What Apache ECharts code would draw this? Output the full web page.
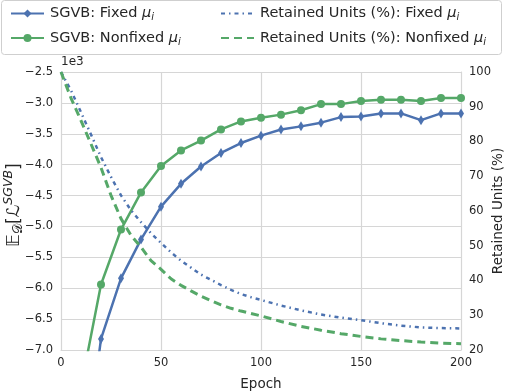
<!DOCTYPE html>
<html>
<head>
<meta charset="utf-8">
<script src="https://cdn.jsdelivr.net/npm/echarts@6/dist/echarts.min.js"></script>
<style>
  html, body { margin: 0; padding: 0; background: #fff; }
  #main { width: 510px; height: 392px; }
</style>
</head>
<body>
<div id="main"></div>
<script>
// SGVB bound (x1e3), every 10 epochs
const sgvbEpochs = [10, 20, 30, 40, 50, 60, 70, 80, 90, 100, 110, 120, 130, 140, 150, 160, 170, 180, 190, 200];
const sgvbFixed = [-9.3, -6.82, -5.84, -5.21, -4.68, -4.31, -4.03, -3.81, -3.65, -3.53, -3.43, -3.38, -3.32, -3.23, -3.22, -3.17, -3.17, -3.28, -3.17, -3.17];
const sgvbNonfixed = [-7.6, -5.94, -5.05, -4.45, -4.02, -3.77, -3.61, -3.43, -3.30, -3.24, -3.19, -3.12, -3.02, -3.02, -2.97, -2.95, -2.95, -2.97, -2.92, -2.92];

// retained units (%)
const unitEpochs = [0, 5, 10, 15, 20, 25, 30, 35, 40, 45, 50, 55, 60, 65, 70, 75, 80, 85, 90, 95, 100, 110, 120, 130, 140, 150, 160, 170, 180, 190, 200];
const unitsFixed = [100, 94.7, 88.4, 82, 75.5, 69.8, 64.5, 60.2, 56.8, 53.6, 50.8, 48.1, 45.7, 43.7, 41.7, 40.2, 38.7, 37.3, 36.1, 35.2, 34.4, 32.8, 31.4, 30.2, 29.3, 28.6, 27.7, 27.0, 26.5, 26.3, 26.2];
const unitsNonfixed = [100, 92.5, 86, 79.3, 72.5, 64.5, 57.8, 53, 49.6, 45.7, 43.2, 40.5, 38.6, 37, 35.5, 34.2, 33.0, 32, 31.2, 30.5, 29.8, 28.2, 26.8, 25.7, 24.7, 23.9, 23.2, 22.7, 22.3, 22.0, 21.8];

const legendNames = {
    'fixed': 'SGVB: Fixed {mu|μ}{sub|i}',
    'nonfixed': 'SGVB: Nonfixed {mu|μ}{sub|i}',
    'rfixed': 'Retained Units (%): Fixed {mu|μ}{sub|i}',
    'rnonfixed': 'Retained Units (%): Nonfixed {mu|μ}{sub|i}'
};

const BLUE = '#4C72B0';
const GREEN = '#55A868';
const TXT = '#262626';
const GRID = '#d6d6d6';
const FONT = 'DejaVu Sans';

const zip = (xs, ys) => xs.map((x, i) => [x, ys[i]]);
const fmtTick = (v) => v.toFixed(1).replace('-', '\u2212');

const legendText = {
    fontFamily: FONT, fontSize: 14.5, color: TXT, padding: [0, 0, 0, 1],
    rich: {
        mu: { fontFamily: FONT, fontSize: 14.5, fontStyle: 'italic', color: TXT },
        sub: { fontFamily: FONT, fontSize: 10, fontStyle: 'italic', color: TXT, padding: [8, 0, 0, 0] }
    }
};

const legendBase = {
    orient: 'vertical',
    itemWidth: 33,
    itemHeight: 10,
    itemGap: 8,
    textStyle: legendText,
    formatter: (name) => legendNames[name],
    backgroundColor: 'transparent',
    z: 10
};

const option = {
    animation: false,
    backgroundColor: '#fff',
    textStyle: { fontFamily: FONT },
    graphic: [
        {
            type: 'text', left: 61, top: 56, z: 0,
            style: { text: '1e3', fontFamily: FONT, fontSize: 12, fill: TXT }
        },
        {
            type: 'rect', left: 1, top: 0, z: 5,
            shape: { width: 500, height: 54, r: 3 },
            style: { fill: '#fff', stroke: '#cfcfcf', lineWidth: 1 }
        }
    ],
    legend: [
        Object.assign({}, legendBase, { left: 5, top: 1, data: ['fixed', 'nonfixed'] }),
        Object.assign({}, legendBase, { left: 215, top: 1, data: ['rfixed', 'rnonfixed'] })
    ],
    grid: { left: 61, right: 49, top: 72, bottom: 42, outerBoundsMode: 'none' },
    xAxis: {
        type: 'value', min: 0, max: 200, interval: 50,
        name: 'Epoch', nameLocation: 'middle', nameGap: 27,
        nameTextStyle: { fontFamily: FONT, fontSize: 13.5, color: TXT },
        axisLine: { show: true, lineStyle: { color: GRID } },
        axisTick: { show: false },
        axisLabel: { fontFamily: FONT, fontSize: 11.5, color: TXT, margin: 7 },
        splitLine: { show: true, lineStyle: { color: GRID, width: 1.2 } }
    },
    yAxis: [
        {
            type: 'value', min: -7, max: -2.5, interval: 0.5, position: 'left',
            name: '𝔼{sub|𝒟}[ℒ{sup|SGVB}]', nameLocation: 'middle', nameRotate: 90,
            nameGap: 35, nameMoveOverlap: false,
            nameTextStyle: {
                fontFamily: FONT, fontSize: 17.5, color: TXT, padding: [0, 0, 0, 12],
                rich: {
                    sub: { fontFamily: FONT, fontSize: 12.5, color: TXT, padding: [9, 0, 0, 0] },
                    sup: { fontFamily: FONT, fontSize: 12.5, fontStyle: 'italic', color: TXT, padding: [0, 0, 11, 0] }
                }
            },
            axisLine: { show: true, lineStyle: { color: GRID } },
            axisTick: { show: false },
            axisLabel: { fontFamily: FONT, fontSize: 11.5, color: TXT, margin: 8, formatter: fmtTick },
            splitLine: { show: true, lineStyle: { color: GRID, width: 1.2 } }
        },
        {
            type: 'value', min: 20, max: 100, interval: 10, position: 'right',
            name: 'Retained Units (%)', nameLocation: 'middle', nameRotate: 90,
            nameGap: 30, nameMoveOverlap: false,
            nameTextStyle: { fontFamily: FONT, fontSize: 13.5, color: TXT },
            axisLine: { show: true, lineStyle: { color: GRID } },
            axisTick: { show: false },
            axisLabel: { fontFamily: FONT, fontSize: 11.5, color: TXT, margin: 8 },
            splitLine: { show: false }
        }
    ],
    series: [
        {
            name: 'fixed', type: 'line', yAxisIndex: 0, clip: true,
            data: zip(sgvbEpochs, sgvbFixed),
            symbol: 'diamond', symbolSize: [6, 10], showAllSymbol: true,
            itemStyle: { color: BLUE },
            lineStyle: { color: BLUE, width: 2.5 }
        },
        {
            name: 'nonfixed', type: 'line', yAxisIndex: 0, clip: true,
            data: zip(sgvbEpochs, sgvbNonfixed),
            symbol: 'circle', symbolSize: 8, showAllSymbol: true,
            itemStyle: { color: GREEN },
            lineStyle: { color: GREEN, width: 2.5 }
        },
        {
            name: 'rfixed', type: 'line', yAxisIndex: 1, clip: true,
            data: zip(unitEpochs, unitsFixed),
            symbol: 'none',
            itemStyle: { color: 'rgba(0,0,0,0)' },
            lineStyle: { color: BLUE, width: 2.5, type: [4, 4, 1.5, 4] }
        },
        {
            name: 'rnonfixed', type: 'line', yAxisIndex: 1, clip: true,
            data: zip(unitEpochs, unitsNonfixed),
            symbol: 'none',
            itemStyle: { color: 'rgba(0,0,0,0)' },
            lineStyle: { color: GREEN, width: 3, type: [8, 5] }
        }
    ]
};

const chart = echarts.init(document.getElementById('main'), null, { renderer: 'canvas' });
chart.setOption(option);
</script>
</body>
</html>
